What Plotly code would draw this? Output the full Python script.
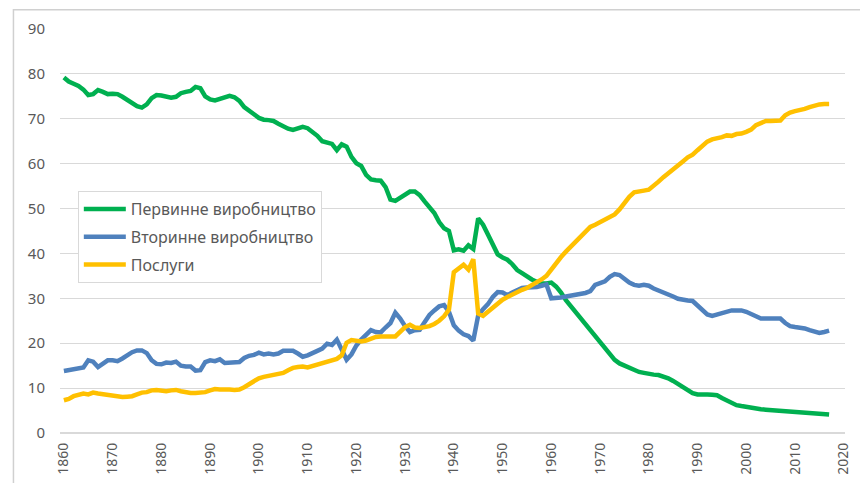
import plotly.graph_objects as go

years = list(range(1860, 2018))

primary = [
    79.2, 78.3, 77.8, 77.3, 76.5, 75.3, 75.5, 76.4, 76.0, 75.5,
    75.6, 75.5, 74.9, 74.1, 73.4, 72.8, 72.5, 73.2, 74.6, 75.3,
    75.2, 75.0, 74.7, 74.9, 75.7, 76.0, 76.2, 77.1, 76.8, 75.0,
    74.3, 74.1, 74.5, 74.9, 75.1, 74.8, 74.0, 72.6, 71.9, 71.0,
    70.2, 69.8, 69.7, 69.5, 68.9, 68.3, 67.8, 67.5, 67.8, 68.2,
    67.9, 67.1, 66.2, 65.0, 64.6, 64.4, 63.0, 64.3, 63.8, 61.5,
    60.1, 59.5, 57.5, 56.5, 56.3, 56.2, 54.8, 52.0, 51.7, 52.4,
    53.2, 53.8, 53.8, 53.0, 51.6, 50.3, 49.0, 47.0, 45.6, 45.0,
    40.7, 40.9, 40.6, 41.8, 41.0, 47.8, 46.4, 44.2, 42.2, 39.8,
    39.1, 38.6, 37.6, 36.3, 35.6, 34.8, 34.2, 33.7, 33.3, 33.3,
    33.5, 32.6, 31.3, 29.6, 28.3, 27.0, 25.6, 24.2, 22.9, 21.5,
    20.2, 19.0, 17.6, 16.3, 15.5, 15.0, 14.6, 14.1, 13.6, 13.4,
    13.1, 13.0, 12.9, 12.6, 12.2, 11.6, 10.9, 10.3, 9.7, 8.9,
    8.6, 8.7, 8.6, 8.5, 8.4, 7.8, 7.2, 6.6, 6.2, 6.0,
    5.8, 5.5, 5.4, 5.3, 5.2, 5.1, 5.0, 4.9, 4.8, 4.8,
    4.8, 4.6, 4.5, 4.5, 4.4, 4.3, 4.2, 4.1,
]

secondary = [
    13.8, 14.0, 14.2, 14.4, 14.6, 16.2, 15.9, 14.7, 15.5, 16.2,
    16.2, 16.0, 16.6, 17.3, 18.0, 18.4, 18.4, 17.8, 16.2, 15.4,
    15.3, 15.7, 15.6, 15.9, 15.0, 14.8, 14.8, 13.9, 14.0, 15.8,
    16.2, 16.0, 16.4, 15.6, 15.6, 15.6, 15.8, 16.7, 17.2, 17.4,
    17.9, 17.5, 17.7, 17.5, 17.7, 18.3, 18.4, 18.3, 17.7, 17.0,
    17.3, 17.9, 18.3, 18.8, 19.9, 19.6, 20.8, 18.6, 16.3, 17.5,
    19.5, 20.8, 22.0, 22.9, 22.5, 22.4, 23.5, 24.5, 26.8, 25.5,
    23.8, 22.5, 22.9, 23.0, 24.7, 26.3, 27.3, 28.2, 28.5, 27.0,
    24.0, 22.8, 22.0, 21.6, 20.6, 26.2, 27.6, 28.7, 30.3, 31.4,
    31.3, 30.7, 31.3, 31.9, 32.3, 32.4, 32.4, 32.5, 32.8, 33.1,
    30.0, 30.0, 30.2, 30.4, 30.6, 30.7, 30.9, 31.2, 31.6, 33.0,
    33.4, 33.8, 34.8, 35.4, 35.2, 34.3, 33.5, 33.0, 32.8, 33.0,
    32.8, 32.2, 31.8, 31.3, 30.9, 30.4, 29.9, 29.6, 29.5, 29.4,
    28.5, 27.3, 26.4, 26.1, 26.4, 26.6, 27.0, 27.3, 27.3, 27.3,
    27.0, 26.6, 26.0, 25.5, 25.4, 25.5, 25.5, 25.5, 24.5, 23.8,
    23.6, 23.5, 23.3, 22.9, 22.5, 22.3, 22.5, 22.8,
]

services = [
    7.3, 7.6, 8.2, 8.6, 8.8, 8.6, 9.0, 8.8, 8.6, 8.5,
    8.4, 8.2, 8.0, 8.1, 8.2, 8.6, 9.0, 9.1, 9.5, 9.6,
    9.4, 9.3, 9.5, 9.6, 9.3, 9.0, 8.9, 8.9, 8.9, 9.1,
    9.5, 9.8, 9.7, 9.8, 9.7, 9.6, 9.7, 10.2, 10.8, 11.4,
    12.2, 12.5, 12.7, 12.9, 13.1, 13.4, 14.0, 14.5, 14.7, 14.8,
    14.6, 14.9, 15.2, 15.4, 15.7, 16.0, 16.5, 17.3, 20.1, 20.7,
    20.5, 20.4, 20.6, 21.0, 21.4, 21.5, 21.6, 21.5, 21.5, 22.6,
    23.6, 24.1, 23.5, 23.4, 23.6, 23.8, 24.3, 25.0, 26.0, 27.5,
    35.8, 36.6, 37.5, 36.4, 38.7, 26.6, 26.1, 27.0, 28.0, 29.0,
    29.7, 30.3, 30.9, 31.4, 31.9, 32.3, 32.9, 33.4, 34.2, 35.0,
    36.5, 37.8, 39.2, 40.4, 41.5, 42.5, 43.4, 44.5, 45.9, 46.4,
    47.0, 47.5, 48.0, 48.7, 49.8, 51.3, 52.6, 53.6, 53.9, 54.0,
    54.2, 55.0, 56.0, 57.0, 57.8, 58.7, 59.6, 60.5, 61.4, 62.0,
    63.0, 64.1, 64.9, 65.4, 65.6, 65.9, 66.3, 66.2, 66.6, 66.7,
    67.1, 67.6, 68.6, 69.1, 69.5, 69.5, 69.5, 69.6, 70.8, 71.4,
    71.7, 71.9, 72.2, 72.6, 73.0, 73.2, 73.3, 73.3,
]

series_names = ["Первинне виробництво", "Вторинне виробництво", "Послуги"]
series_colors = ["#00B050", "#4F81BD", "#FFC000"]
x_ticks = list(range(1860, 2021, 10))
y_ticks = list(range(0, 91, 10))

FONT = "Noto Sans"
TXT = "#595959"

fig = go.Figure()
for i, (name, vals, col) in enumerate(zip(series_names, [primary, secondary, services], series_colors)):
    fig.add_trace(go.Scatter(
        x=years, y=vals, mode="lines", name=name,
        line=dict(color=col, width=4.5, shape="linear"),
        legendgroup=f"g{i}",
    ))

fig.update_layout(
    width=860, height=483,
    margin=dict(l=60, r=8, t=29, b=50),
    paper_bgcolor="white", plot_bgcolor="white",
    font=dict(family=FONT, color=TXT, size=14),
    showlegend=True,
    legend=dict(
        x=0.0227, y=0.599, xanchor="left", yanchor="top",
        bgcolor="white", bordercolor="#D9D9D9", borderwidth=1,
        font=dict(family=FONT, size=16, color=TXT),
        tracegroupgap=4, traceorder="grouped",
        itemwidth=42,
    ),
    xaxis=dict(
        range=[1859.2, 2020.26], tickmode="array", tickvals=x_ticks,
        ticktext=[str(v) for v in x_ticks], tickangle=-90,
        showgrid=False, zeroline=False, showline=False,
        ticks="", ticklabelstandoff=6,
        tickfont=dict(family=FONT, size=14, color=TXT),
    ),
    yaxis=dict(
        range=[0, 90], tickmode="array", tickvals=y_ticks,
        ticktext=[str(v) for v in y_ticks],
        showgrid=True, gridcolor="#D9D9D9", gridwidth=1,
        zeroline=True, zerolinecolor="#D9D9D9", zerolinewidth=1.5,
        showline=False, ticks="", ticklabelstandoff=14,
        tickfont=dict(family=FONT, size=15, color=TXT),
    ),
    shapes=[dict(
        type="rect", xref="paper", yref="paper",
        x0=-0.0593, x1=1.2, y0=-0.3, y1=1.0479,
        line=dict(color="#D0D0D0", width=1.5), layer="above",
    )],
)

fig.write_html(
    "out.html",
    config={"displayModeBar": False},
    post_script="document.body.style.margin='0';document.body.style.overflow='hidden';",
)
